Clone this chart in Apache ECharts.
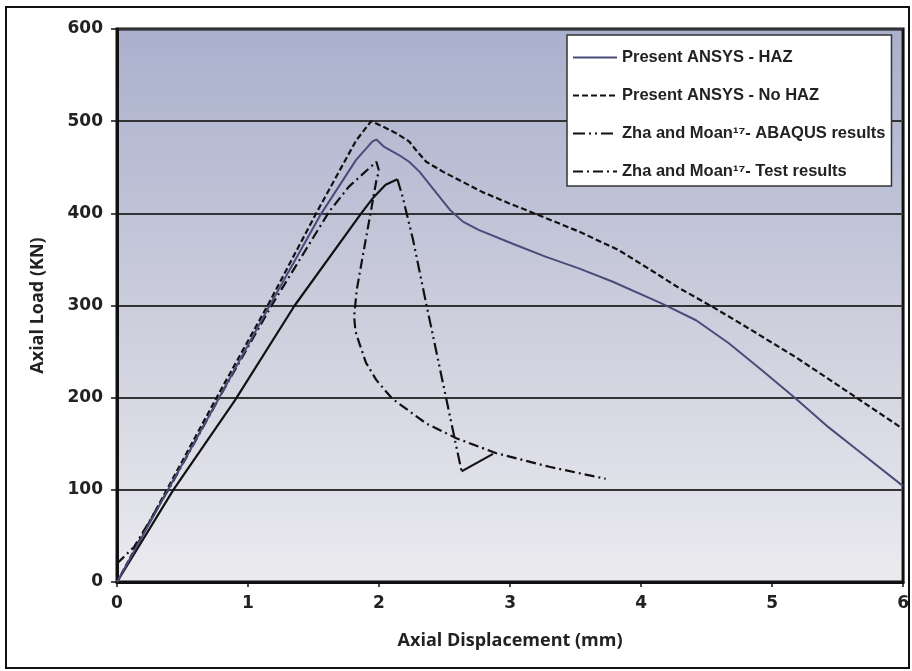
<!DOCTYPE html>
<html>
<head>
<meta charset="utf-8">
<script src="https://cdn.jsdelivr.net/npm/echarts@6/dist/echarts.min.js"></script>
<style>
html,body{margin:0;padding:0;background:#fff;}
#chart{width:912px;height:671px;}
</style>
</head>
<body>
<div id="chart"></div>
<script>
// ---- data ----
const xTicks = [0, 1, 2, 3, 4, 5, 6];
const yTicks = [0, 100, 200, 300, 400, 500, 600];

const hazX = [0, 0.39, 0.78, 1.165, 1.56, 1.825, 1.95, 1.98, 2.04, 2.155, 2.23, 2.31, 2.41, 2.54, 2.64, 2.76, 3.02, 3.27, 3.53, 3.78, 4.16, 4.42, 4.67, 4.92, 5.18, 5.43, 5.68, 6.0];
const hazY = [0, 100, 200, 300, 400, 458, 478, 480, 472, 463, 456, 445, 427, 404, 391, 382, 367, 353, 340, 326, 302, 284, 259, 230, 199, 168, 140, 104];

const noHazX = [0, 0.38, 0.76, 1.15, 1.52, 1.825, 1.94, 2.03, 2.13, 2.23, 2.28, 2.36, 2.49, 2.64, 2.79, 2.99, 3.15, 3.53, 3.83, 4.08, 4.29, 4.54, 4.80, 5.18, 5.56, 6.0];
const noHazY = [0, 100, 200, 300, 400, 479, 500, 494, 487, 478, 469, 456, 445, 434, 423, 411, 402, 380, 360, 338, 319, 299, 277, 244, 208, 166];

// ABAQUS curve: rising part (drawn solid), drop (dash-dot-dot), tail (solid)
const abaqusRiseX = [0, 0.43, 0.9, 1.356, 1.864, 1.95, 2.05, 2.14];
const abaqusRiseY = [0, 100, 197, 300, 400, 416, 431, 437];
const abaqusDropX = [2.14, 2.18, 2.26, 2.36, 2.51, 2.63];
const abaqusDropY = [437, 418, 371, 302, 201, 120];
const abaqusTailX = [2.63, 2.87];
const abaqusTailY = [120, 139];

const testX = [0, 0.13, 0.4, 0.8, 1.18, 1.62, 1.77, 1.91, 1.98, 2.0, 1.98, 1.93, 1.88, 1.83, 1.81, 1.82, 1.85, 1.9, 1.98, 2.10, 2.36, 2.59, 2.89, 3.30, 3.73];
const testY = [20, 38, 102, 205, 300, 402, 429, 447, 456, 446, 436, 396, 357, 317, 288, 272, 259, 238, 219, 199, 172, 156, 140, 125, 112];

const names = [
  'Present ANSYS - HAZ',
  'Present ANSYS - No HAZ',
  'Zha and Moan\u00B9\u2077- ABAQUS results',
  'Zha and Moan\u00B9\u2077- Test results'
];

function pairs(xs, ys){ return xs.map((x,i)=>[x, ys[i]]); }

const chart = echarts.init(document.getElementById('chart'), null, {renderer:'canvas'});
const tickFont = {fontFamily:'DejaVu Sans', fontWeight:'bold', fontSize:17, color:'#222'};
const titleFont = {fontFamily:'Open Sans', fontWeight:'bold', fontSize:18, color:'#222'};

const option = {
  backgroundColor:'#fff',
  animation:false,
  graphic:[{
    type:'rect', shape:{x:6, y:7, width:903, height:661},
    style:{fill:'none', stroke:'#111', lineWidth:2}, z:-1
  }],
  grid:{
    left:117, right:7, top:29, bottom:89,
    show:true, borderColor:'#111', borderWidth:3,
    backgroundColor:{type:'linear', x:0, y:0, x2:0, y2:1, colorStops:[
      {offset:0, color:'#aab0cd'}, {offset:0.5, color:'#cbcddc'}, {offset:1, color:'#ebebef'}
    ]}
  },
  legend:{
    orient:'vertical', left:567, top:35,
    backgroundColor:'#fff', borderColor:'#333', borderWidth:1.5,
    padding:[14, 6, 6, 5], itemGap:21, itemWidth:44, itemHeight:16,
    itemStyle:{color:'rgba(0,0,0,0)', borderWidth:0},
    textStyle:{fontFamily:'Liberation Sans', fontWeight:'bold', fontSize:16.5, color:'#222'},
    data: names, selectedMode:false
  },
  xAxis:{
    type:'value', min:0, max:6, interval:1,
    name:'Axial Displacement (mm)', nameLocation:'middle', nameGap:50, nameTextStyle:titleFont,
    axisLine:{lineStyle:{color:'#111', width:3}},
    axisTick:{show:true, length:5, lineStyle:{color:'#111', width:1.5}},
    axisLabel:Object.assign({margin:13, formatter:v=>String(v)}, tickFont),
    splitLine:{show:false}
  },
  yAxis:{
    type:'value', min:0, max:600, interval:100,
    name:'Axial Load (KN)', nameLocation:'middle', nameGap:70, nameTextStyle:titleFont,
    axisLine:{lineStyle:{color:'#111', width:3}},
    axisTick:{show:true, length:6, lineStyle:{color:'#111', width:1.5}},
    axisLabel:Object.assign({margin:14, formatter:v=>String(v)}, tickFont),
    splitLine:{show:true, lineStyle:{color:'#333', width:2}}
  },
  series:[
    {name:names[0], type:'line', symbol:'none', data:pairs(hazX, hazY),
     lineStyle:{color:'#4b4b7a', width:2}, itemStyle:{color:'#4b4b7a'}, z:5},
    {name:names[1], type:'line', symbol:'none', data:pairs(noHazX, noHazY),
     lineStyle:{color:'#111', width:2.2, type:[6,3]}, itemStyle:{color:'#111'}, z:4},
    {name:names[2], type:'line', symbol:'none', data:pairs(abaqusDropX, abaqusDropY),
     lineStyle:{color:'#111', width:2.2, type:[12,4,2,4,2,4]}, itemStyle:{color:'#111'}, z:3},
    {name:'abaqus-rise', type:'line', symbol:'none', data:pairs(abaqusRiseX, abaqusRiseY),
     lineStyle:{color:'#111', width:2.2}, itemStyle:{color:'#111'}, z:3},
    {name:'abaqus-tail', type:'line', symbol:'none', data:pairs(abaqusTailX, abaqusTailY),
     lineStyle:{color:'#111', width:2.2}, itemStyle:{color:'#111'}, z:3},
    {name:names[3], type:'line', symbol:'none', data:pairs(testX, testY),
     lineStyle:{color:'#111', width:2.2, type:[10,4,2,4]}, itemStyle:{color:'#111'}, z:3}
  ]
};
chart.setOption(option);
</script>
</body>
</html>
